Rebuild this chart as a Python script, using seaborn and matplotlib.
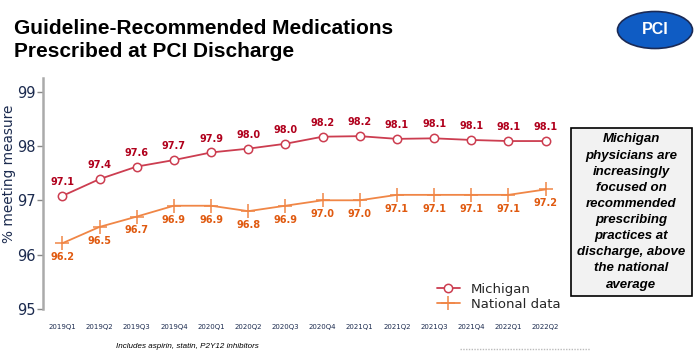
import pandas as pd
import matplotlib
matplotlib.use('Agg')
import matplotlib.pyplot as plt
import matplotlib.patches as mpatches
from matplotlib import font_manager
import seaborn as sns

# Data
quarters = ['2019Q1', '2019Q2', '2019Q3', '2019Q4', '2020Q1', '2020Q2', '2020Q3',
            '2020Q4', '2021Q1', '2021Q2', '2021Q3', '2021Q4', '2022Q1', '2022Q2']
michigan = [97.08, 97.39, 97.62, 97.74, 97.88, 97.95, 98.04,
            98.17, 98.18, 98.13, 98.14, 98.11, 98.09, 98.09]
michigan_labels = ['97.1', '97.4', '97.6', '97.7', '97.9', '98.0', '98.0',
                   '98.2', '98.2', '98.1', '98.1', '98.1', '98.1', '98.1']
national = [96.21, 96.51, 96.70, 96.90, 96.90, 96.80, 96.90,
            97.00, 97.00, 97.10, 97.10, 97.10, 97.10, 97.20]
national_labels = ['96.2', '96.5', '96.7', '96.9', '96.9', '96.8', '96.9',
                   '97.0', '97.0', '97.1', '97.1', '97.1', '97.1', '97.2']

mi_line = '#cc3d50'
mi_text = '#b0001c'
nat_line = '#f08646'
nat_text = '#e05a10'
navy = '#1c2b4f'

sns.set_style('white')
plt.rcParams['font.family'] = ['DejaVu Sans']

# narrow title font if it is there
names = {f.name for f in font_manager.fontManager.ttflist}
if 'Liberation Sans Narrow' in names:
    title_family, title_size = ['Liberation Sans Narrow', 'DejaVu Sans'], 17.5
else:
    title_family, title_size = ['Liberation Sans', 'DejaVu Sans'], 15

df_mi = pd.DataFrame({'quarter': quarters, 'value': michigan})
df_nat = pd.DataFrame({'quarter': quarters, 'value': national})

fig = plt.figure(figsize=(7, 3.52), dpi=100)
ax = fig.add_axes([43 / 700, 1 - 309 / 352, 522 / 700, 231 / 352])

sns.lineplot(data=df_mi, x='quarter', y='value', ax=ax, color=mi_line, marker='o',
             markersize=6, mfc='white', mec=mi_line, mew=1.1, lw=1.3, label='Michigan')
sns.lineplot(data=df_nat, x='quarter', y='value', ax=ax, color=nat_line, marker='+',
             markersize=10, mec=nat_line, mew=1.1, lw=1.3, label='National data')

for i, (v, t) in enumerate(zip(michigan, michigan_labels)):
    ax.annotate(t, (i, v), xytext=(0, 10), textcoords='offset points', ha='center',
                va='center', fontsize=7, fontweight='bold', color=mi_text)
for i, (v, t) in enumerate(zip(national, national_labels)):
    ax.annotate(t, (i, v), xytext=(0, -10), textcoords='offset points', ha='center',
                va='center', fontsize=7, fontweight='bold', color=nat_text)

ax.set_xlim(-0.52, 13.52)
ax.set_ylim(95, 99.25)
ax.set_yticks([95, 96, 97, 98, 99])
ax.set_xlabel('')
ax.set_ylabel('% meeting measure', fontsize=9.8, color=navy)
ax.yaxis.set_label_coords(-0.052, 0.584)
ax.tick_params(axis='y', labelsize=10.5, labelcolor=navy, left=True, length=4,
               width=1, color='#888888', pad=1.5)
ax.tick_params(axis='x', labelsize=5, labelcolor=navy, bottom=False, pad=7)
for s in ['top', 'right', 'bottom']:
    ax.spines[s].set_visible(False)
ax.spines['left'].set_color('#aaaaaa')
ax.spines['left'].set_linewidth(1.8)
ax.patch.set_alpha(0)

ax.legend(loc='upper left', bbox_to_anchor=(430 / 700, 1 - 276 / 352),
          bbox_transform=fig.transFigure, frameon=False, fontsize=9.5,
          borderpad=0, labelspacing=0.15, handlelength=1.8, handletextpad=0.8)

# Title
fig.text(14 / 700, 1 - 57 / 352, 'Guideline-Recommended Medications\nPrescribed at PCI Discharge',
         ha='left', va='baseline', fontsize=title_size, fontweight='bold', linespacing=1.25,
         family=title_family, color='black')

# PCI badge
badge = mpatches.Ellipse((655 / 700, 1 - 30 / 352), 75 / 700, 37 / 352,
                         transform=fig.transFigure, facecolor='#0f5cc4',
                         edgecolor='#1b2a55', lw=1.2)
fig.patches.append(badge)
fig.text(655 / 700, 1 - 30 / 352, 'PCI', ha='center', va='center', color='white',
         fontsize=11.5, fontweight='bold', family=['Liberation Sans', 'DejaVu Sans'])

# Comment box
box = mpatches.Rectangle((571 / 700, 1 - 296 / 352), 121 / 700, 168 / 352,
                         transform=fig.transFigure, facecolor='#f2f2f2',
                         edgecolor='black', lw=1.2)
fig.patches.append(box)
fig.text(631.5 / 700, 1 - 212 / 352,
         'Michigan\nphysicians are\nincreasingly\nfocused on\nrecommended\nprescribing\npractices at\ndischarge, above\nthe national\naverage',
         ha='center', va='center', fontsize=9.5, fontweight='bold', style='italic',
         linespacing=1.46, family=['Liberation Sans', 'DejaVu Sans'], color='black')

# Footnote
fig.text(116 / 700, 1 - 346 / 352, 'Includes aspirin, statin, P2Y12 inhibitors',
         ha='left', va='center', fontsize=5.8, style='italic',
         family=['Liberation Sans Narrow', 'Liberation Sans', 'DejaVu Sans'], color='black')
fig.lines.append(plt.Line2D([460 / 700, 590 / 700], [1 - 349 / 352, 1 - 349 / 352],
                            transform=fig.transFigure, color='#bbbbbb', lw=1,
                            linestyle=(0, (1, 1))))

fig.savefig('out.png', dpi=100)
